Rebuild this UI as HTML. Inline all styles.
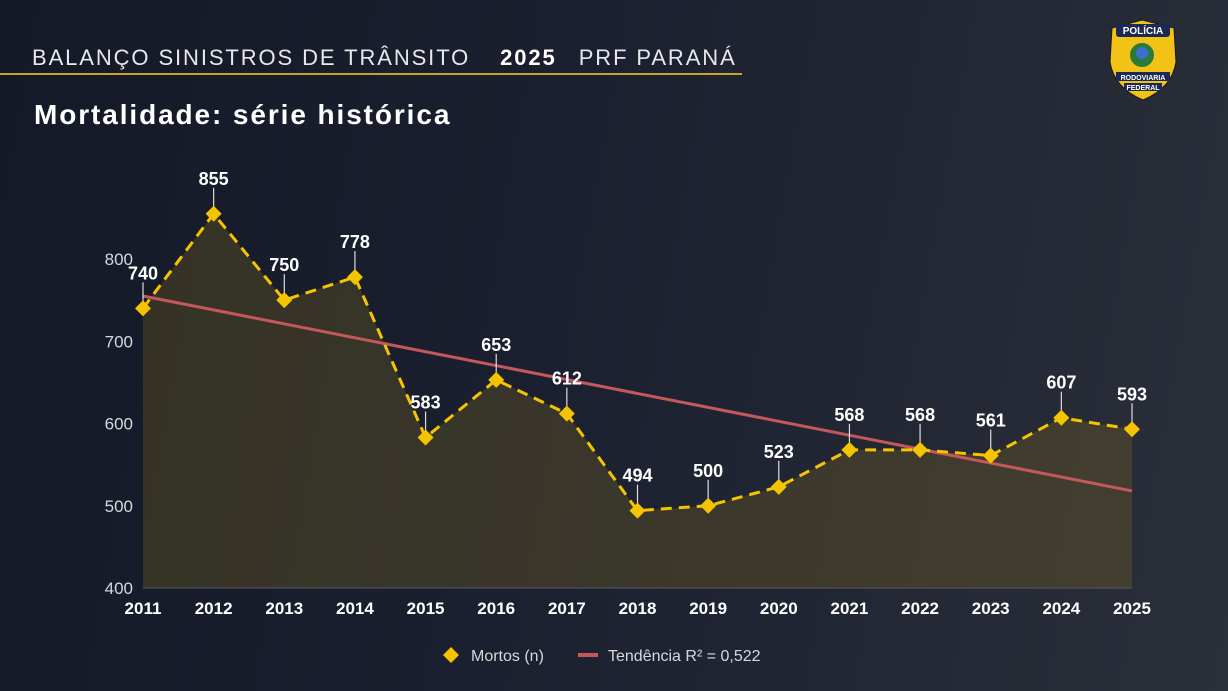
<!DOCTYPE html>
<html><head><meta charset="utf-8"><style>
html,body{margin:0;padding:0}
body{width:1228px;height:691px;overflow:hidden;background:linear-gradient(100deg,#141927 0%,#1b2030 45%,#2b2f39 100%);font-family:"Liberation Sans",sans-serif;position:relative}
.hdr{position:absolute;left:32px;top:45px;color:#e8e8ea;font-size:22px;letter-spacing:1.9px;white-space:nowrap}
.hdr b{font-weight:bold;color:#fff;margin:0 22px 0 30px}
.rule{position:absolute;left:0;top:73px;width:742px;height:2px;background:#c9a227}
.title{position:absolute;left:34px;top:99px;color:#fff;font-size:28px;font-weight:bold;letter-spacing:1.9px}
svg{position:absolute;left:0;top:0}
</style></head><body>
<div class="hdr">BALANÇO SINISTROS DE TRÂNSITO<b>2025</b>PRF PARANÁ</div>
<div class="rule"></div>
<div class="title">Mortalidade: série histórica</div>
<svg width="1228" height="691" id="chart">
<g>
<path d="M1112 28 L1142 20 L1174 28 L1176 62 Q1172 88 1143 100 Q1114 88 1110 62 Z" fill="#f2c316" stroke="#1a1a1a" stroke-width="1"/>
<rect x="1116" y="24" width="54" height="13" rx="3" fill="#1b2a55"/>
<text x="1143" y="34" fill="#fff" font-size="10" font-weight="bold" text-anchor="middle">POLÍCIA</text>
<circle cx="1142" cy="55" r="12" fill="#2a7a3a"/><circle cx="1142" cy="53" r="6" fill="#3b6fd4"/>
<rect x="1116" y="72" width="54" height="9" fill="#1b2a55"/>
<text x="1143" y="80" fill="#fff" font-size="7" font-weight="bold" text-anchor="middle">RODOVIARIA</text>
<rect x="1124" y="83" width="38" height="8" fill="#1b2a55"/>
<text x="1143" y="90" fill="#fff" font-size="7" font-weight="bold" text-anchor="middle">FEDERAL</text>
</g>
</svg>
<script>
const years=['2011','2012','2013','2014','2015','2016','2017','2018','2019','2020','2021','2022','2023','2024','2025'];
const deaths=[740,855,750,778,583,653,612,494,500,523,568,568,561,607,593];
const trendEnds=[755,518];
const yTicks=[400,500,600,700,800];
const svg=document.getElementById('chart');
const NS='http://www.w3.org/2000/svg';
const x0=143,x1=1132,yBase=588,pxPer=0.8225;
const X=i=>x0+(x1-x0)*i/(years.length-1);
const Y=v=>yBase-(v-400)*pxPer;
function mk(t,a,p){const e=document.createElementNS(NS,t);for(const k in a)e.setAttribute(k,a[k]);(p||svg).appendChild(e);return e;}
yTicks.forEach(v=>{const t=mk('text',{x:133,y:Y(v)+6,fill:'#d8d8dc','font-size':17,'text-anchor':'end'});t.textContent=v;

});
let d='M'+X(0)+','+yBase;deaths.forEach((v,i)=>d+=' L'+X(i)+','+Y(v));d+=' L'+X(deaths.length-1)+','+yBase+'Z';
const area=mk('path',{d:d,fill:'rgba(120,100,30,0.32)'});


const ax=mk('line',{x1:x0,x2:x1,y1:yBase,y2:yBase,stroke:'#555a66','stroke-width':1});


const tr=mk('line',{x1:X(0),y1:Y(trendEnds[0]),x2:X(years.length-1),y2:Y(trendEnds[1]),stroke:'#c4585a','stroke-width':3});


const ln=mk('polyline',{points:deaths.map((v,i)=>X(i)+','+Y(v)).join(' '),fill:'none',stroke:'#f5c400','stroke-width':3,'stroke-dasharray':'11,7'});


deaths.forEach((v,i)=>{const cx=X(i),cy=Y(v);
const l=mk('line',{x1:cx,x2:cx,y1:cy-6,y2:cy-26,stroke:'#ddd','stroke-width':1.2});


const m=mk('path',{d:`M${cx},${cy-8} L${cx+8},${cy} L${cx},${cy+8} L${cx-8},${cy}Z`,fill:'#f5c400'});


const t=mk('text',{x:cx,y:cy-29,fill:'#fff','font-size':18,'font-weight':'bold','text-anchor':'middle'});t.textContent=v;


const xt=mk('text',{x:cx,y:614,fill:'#fff','font-size':17,'font-weight':'bold','text-anchor':'middle'});xt.textContent=years[i];

});
const lg=mk('g',{});


mk('path',{d:'M451,647 L459,655 L451,663 L443,655Z',fill:'#f5c400'},lg);
const t1=mk('text',{x:471,y:661,fill:'#d8d8dc','font-size':16},lg);t1.textContent='Mortos (n)';
mk('line',{x1:578,x2:598,y1:655,y2:655,stroke:'#c4585a','stroke-width':4},lg);
const t2=mk('text',{x:608,y:661,fill:'#d8d8dc','font-size':16},lg);t2.textContent='Tendência R² = 0,522';
</script>
</body></html>
